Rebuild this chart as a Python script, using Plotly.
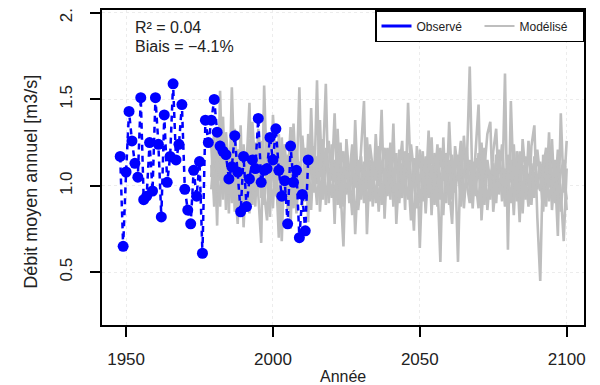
import plotly.graph_objects as go

# Observed annual mean discharge (1948-2012)
obs_years = list(range(1948, 2013))
obs_values = [
    1.17, 0.65, 1.08, 1.43, 1.26, 1.13, 1.05, 1.51, 0.92, 0.94,
    1.25, 0.97, 1.51, 1.24, 0.82, 1.41, 1.02, 1.17, 1.59, 1.15,
    1.24, 1.47, 0.98, 0.86, 0.78, 1.09, 0.94, 1.14, 0.61, 1.38,
    1.25, 1.38, 1.50, 1.31, 1.23, 1.20, 1.18, 1.04, 1.11, 1.29,
    1.08, 0.85, 1.17, 0.88, 1.04, 1.15, 1.10, 1.39, 1.02, 1.09,
    1.10, 1.28, 1.15, 1.33, 1.09, 0.94, 1.03, 0.78, 1.23, 1.02,
    1.09, 0.70, 0.95, 0.74, 1.15,
]

# Modelled annual mean discharge (1979-2100), several runs
mod_years = list(range(1979, 2101))
mod_run_a = [
    1.05, 1.32, 0.77, 1.55, 0.92, 1.21, 0.84, 1.57, 1.02, 0.78,
    1.35, 0.76, 1.12, 1.48, 0.89, 1.25, 0.95, 0.67, 1.58, 1.03,
    0.82, 1.41, 1.10, 0.70, 1.28, 0.93, 1.18, 0.75, 1.36, 1.00,
    1.57, 0.88, 1.22, 0.79, 1.45, 0.96, 1.61, 0.85, 1.12, 1.59,
    0.90, 1.24, 0.78, 1.33, 0.98, 0.65, 1.27, 1.05, 0.83, 1.38,
    0.94, 1.21, 1.49, 0.72, 1.15, 0.88, 1.30, 1.00, 1.44, 0.81,
    1.18, 0.92, 1.36, 0.78, 1.09, 1.26, 0.86, 1.48, 1.02, 0.74,
    1.23, 0.64, 1.13, 0.95, 1.32, 0.83, 1.19, 1.04, 0.56, 1.28,
    0.90, 1.37, 0.99, 1.16, 0.56, 1.25, 0.87, 1.12, 1.69, 0.93,
    1.20, 1.47, 0.80, 1.10, 1.30, 1.37, 0.85, 1.04, 1.21, 0.91,
    1.65, 0.63, 1.49, 0.97, 1.14, 0.79, 1.27, 1.06, 0.88, 1.23,
    1.35, 0.82, 0.45, 1.18, 0.95, 1.31, 0.86, 1.09, 0.71, 1.42,
    0.96, 1.26,
]
mod_run_b = [
    1.12, 0.95, 1.28, 1.03, 1.40, 0.86, 1.18, 0.99, 1.33, 1.07,
    0.90, 1.24, 1.01, 0.84, 1.37, 1.08, 1.20, 0.93, 1.14, 1.30,
    1.04, 0.87, 1.26, 1.13, 0.68, 1.19, 1.02, 1.34, 0.91, 1.09,
    0.97, 1.29, 1.06, 1.18, 0.86, 1.23, 1.01, 1.38, 0.92, 1.15,
    1.26, 1.03, 1.42, 0.89, 1.11, 1.20, 0.95, 1.06, 1.24, 0.72,
    1.08, 1.17, 0.90, 1.28, 1.03, 0.96, 1.19, 0.85, 1.12, 1.22,
    0.99, 1.25, 0.88, 1.14, 1.04, 0.93, 1.20, 1.07, 0.80, 1.16,
    1.02, 1.21, 0.91, 1.10, 0.97, 1.28, 0.89, 1.15, 1.05, 0.83,
    1.19, 1.00, 0.78, 1.23, 1.07, 0.94, 1.29, 1.01, 0.90, 1.14,
    1.03, 0.87, 1.25, 0.98, 1.12, 0.92, 1.20, 1.33, 0.95, 1.09,
    0.88, 1.18, 1.02, 1.24, 0.91, 1.06, 0.84, 1.17, 1.00, 1.13,
    0.93, 1.21, 1.05, 0.85, 1.15, 0.99, 1.27, 0.90, 1.11, 0.96,
    0.68, 1.10,
]
mod_run_c = [
    0.98, 1.20, 1.09, 0.88, 1.26, 1.14, 0.95, 1.30, 0.85, 1.21,
    1.16, 1.00, 0.92, 1.27, 1.05, 0.88, 1.33, 1.12, 0.96, 0.80,
    1.22, 1.06, 0.94, 1.30, 1.01, 1.16, 0.86, 1.12, 1.25, 0.84,
    1.14, 1.02, 0.91, 1.30, 1.08, 0.98, 1.17, 1.05, 1.27, 0.89,
    1.07, 0.93, 1.15, 1.05, 1.25, 0.88, 1.13, 0.97, 1.09, 1.19,
    0.86, 1.03, 1.14, 0.98, 1.24, 1.10, 0.90, 1.16, 0.94, 1.05,
    1.22, 1.06, 0.96, 1.19, 0.90, 1.13, 1.03, 0.92, 1.24, 1.08,
    0.87, 1.05, 1.20, 0.84, 1.16, 1.00, 1.08, 0.88, 1.22, 1.03,
    1.12, 0.89, 1.18, 0.96, 1.09, 1.26, 0.93, 1.05, 1.15, 0.87,
    1.16, 1.08, 0.94, 1.22, 0.86, 1.06, 1.13, 0.90, 1.18, 1.01,
    1.10, 0.95, 1.15, 0.83, 1.20, 1.04, 1.12, 0.92, 1.26, 0.97,
    1.08, 0.98, 1.14, 1.03, 0.88, 1.17, 1.06, 0.94, 1.21, 0.85,
    1.09, 0.92,
]
mod_run_d = [
    1.24, 0.88, 1.15, 1.06, 0.97, 1.31, 1.08, 0.90, 1.19, 0.94,
    1.07, 1.18, 0.86, 1.10, 1.22, 0.97, 1.04, 1.26, 0.89, 1.15,
    0.93, 1.18, 1.05, 0.90, 1.14, 1.24, 0.98, 1.03, 0.87, 1.21,
    1.06, 0.93, 1.17, 0.99, 1.21, 1.10, 0.89, 1.13, 1.03, 1.22,
    0.95, 1.14, 1.02, 1.19, 0.87, 1.08, 1.21, 0.90, 1.13, 0.99,
    1.15, 0.92, 1.06, 1.20, 0.91, 1.14, 1.03, 1.23, 0.89, 1.10,
    0.94, 1.17, 1.08, 0.91, 1.21, 1.00, 1.11, 1.19, 0.93, 1.05,
    1.16, 0.90, 1.04, 1.17, 0.93, 1.12, 0.98, 1.24, 0.92, 1.10,
    1.01, 1.15, 0.92, 1.09, 1.18, 0.88, 1.06, 1.22, 0.97, 1.12,
    0.94, 1.19, 1.06, 0.89, 1.15, 1.02, 0.93, 1.18, 1.07, 1.24,
    0.97, 1.08, 0.90, 1.13, 1.01, 1.20, 0.94, 1.09, 1.03, 0.89,
    1.17, 1.04, 0.97, 1.10, 1.22, 0.91, 1.01, 1.15, 0.92, 1.08,
    1.15, 0.86,
]

x_ticks = [1950, 2000, 2050, 2100]
y_ticks = [0.5, 1.0, 1.5, 2.0]
stats_text = ["R² = 0.04", "Biais = −4.1%"]
legend_names = ["Observé", "Modélisé"]
x_title = "Année"
y_title = "Débit moyen annuel [m3/s]"

BLUE = "#0000FF"
GREY = "#BEBEBE"
FONT = "Liberation Sans"
TXT = "#222"

fig = go.Figure()

for run in (mod_run_a, mod_run_b, mod_run_c, mod_run_d):
    fig.add_trace(go.Scatter(
        x=mod_years, y=run, mode="lines",
        line=dict(color=GREY, width=2.6),
        showlegend=False, hoverinfo="skip",
    ))

fig.add_trace(go.Scatter(
    x=obs_years, y=obs_values, mode="lines+markers",
    line=dict(color=BLUE, width=2.5, dash="6px,5px"),
    marker=dict(color=BLUE, size=11),
    showlegend=False,
))

# legend entries (line samples only)
fig.add_trace(go.Scatter(x=[None], y=[None], mode="lines", name=legend_names[0],
                         line=dict(color=BLUE, width=3)))
fig.add_trace(go.Scatter(x=[None], y=[None], mode="lines", name=legend_names[1],
                         line=dict(color=GREY, width=2)))

fig.add_annotation(x=0.064, y=0.943, xref="paper", yref="paper",
                   text=stats_text[0], showarrow=False, xanchor="left", yanchor="middle",
                   font=dict(family=FONT, size=16, color=TXT))
fig.add_annotation(x=0.064, y=0.883, xref="paper", yref="paper",
                   text=stats_text[1], showarrow=False, xanchor="left", yanchor="middle",
                   font=dict(family=FONT, size=16, color=TXT))
fig.add_annotation(x=-0.147, y=0.455, xref="paper", yref="paper",
                   text=y_title, textangle=-90, showarrow=False,
                   xanchor="center", yanchor="middle",
                   font=dict(family=FONT, size=18, color=TXT))
fig.add_annotation(x=0.5, y=-0.162, xref="paper", yref="paper",
                   text=x_title, showarrow=False,
                   xanchor="center", yanchor="middle",
                   font=dict(family=FONT, size=16, color=TXT))

# page body has an 8px margin: figure sized/margined so the plot box lands at
# x 102..584, y 10..325 in the 600x385 window
fig.update_layout(
    width=592, height=377,
    margin=dict(l=94, r=16, t=2, b=60),
    paper_bgcolor="white", plot_bgcolor="white",
    font=dict(family=FONT, size=16, color=TXT),
    legend=dict(
        orientation="h", x=1.0, xanchor="right", y=1.0, yanchor="top",
        bordercolor="black", borderwidth=1.5, bgcolor="white",
        font=dict(family=FONT, size=12, color=TXT),
        itemwidth=30, tracegroupgap=0, entrywidth=58,
    ),
    xaxis=dict(
        range=[1941.8, 2105.9], tickvals=x_ticks, ticktext=[str(v) for v in x_ticks],
        ticks="outside", ticklen=10, tickwidth=1.5, tickcolor="black",
        showline=True, linecolor="black", linewidth=1.5, mirror=True,
        showgrid=True, gridcolor="#ececec", griddash="dot", zeroline=False,
        ticklabelstandoff=8, automargin=False, tickfont=dict(size=17),
        ticklabeloverflow="allow",
    ),
    yaxis=dict(
        range=[0.195, 2.017], tickvals=y_ticks, ticktext=["%.1f" % v for v in y_ticks],
        ticks="outside", ticklen=10, tickwidth=1.5, tickcolor="black",
        showline=True, linecolor="black", linewidth=1.5, mirror=True,
        showgrid=True, gridcolor="#ececec", griddash="dot", zeroline=False,
        tickangle=-90, automargin=False, tickfont=dict(size=17),
        ticklabelstandoff=11, ticklabeloverflow="allow",
    ),
)

fig.write_html("out.html")
